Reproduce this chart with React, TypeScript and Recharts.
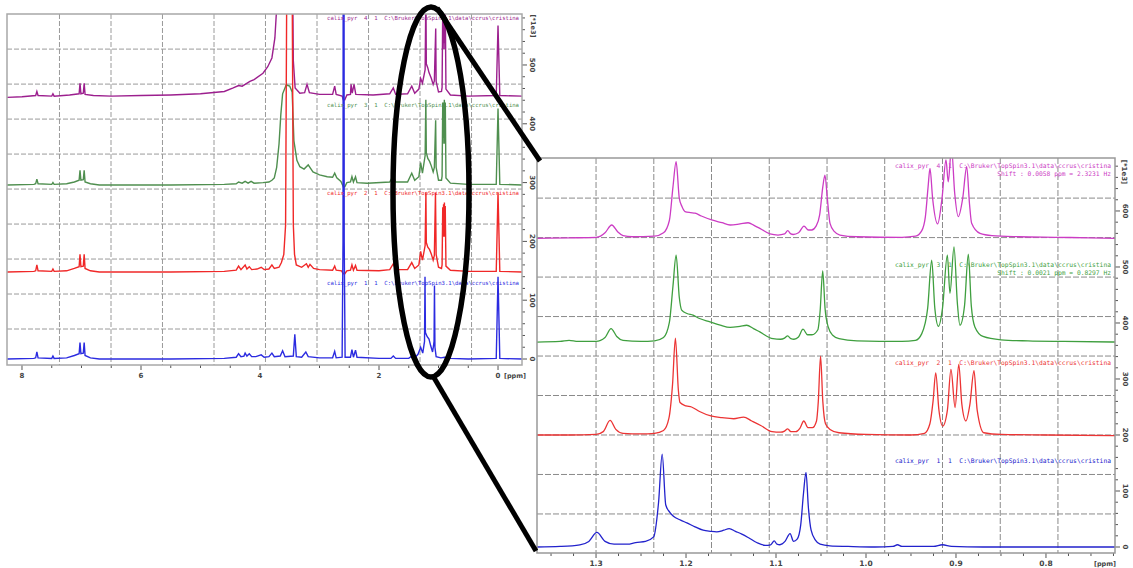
import React from "react";
import { CartesianGrid, Line, LineChart, XAxis, YAxis } from "recharts";

// full 1H spectra (left), [ppm, intensity above the trace's own baseline]
const fullBlue: [number, number][] = [
  [8.25, 0], [7.8, 1], [7.77, 2], [7.75, 12], [7.73, 2], [7.5, 1], [7.48, 5], [7.46, 1], [7.25, 2], [7.12, 6],
  [7.04, 9], [7.025, 28], [7.01, 9], [6.97, 10], [6.955, 28], [6.94, 6], [6.85, 2], [6.7, 0], [5.5, 0], [4.6, 1],
  [4.4, 3], [4.36, 9], [4.32, 4], [4.27, 5], [4.25, 10], [4.22, 5], [4.18, 9], [4.14, 4], [4.07, 4], [3.98, 7],
  [3.93, 3], [3.85, 4], [3.8, 10], [3.76, 4], [3.66, 5], [3.62, 14], [3.58, 4], [3.44, 5], [3.415, 42], [3.39, 4],
  [3.3, 3], [3.23, 12], [3.19, 4], [3.0, 2], [2.78, 2], [2.745, 13], [2.72, 2], [2.62, 3], [2.605, 200], [2.595, 2000],
  [2.585, 200], [2.57, 3], [2.48, 3], [2.455, 16], [2.43, 3], [2.395, 15], [2.37, 3], [2.0, 1], [1.8, 1], [1.76, 5],
  [1.72, 1], [1.5, 1], [1.45, 5], [1.4, 2], [1.345, 8], [1.3, 20], [1.265, 10], [1.235, 30], [1.227, 140], [1.22, 45],
  [1.19, 38], [1.16, 34], [1.13, 22], [1.1, 12], [1.085, 22], [1.075, 30], [1.068, 125], [1.06, 20], [1.04, 4], [0.96, 2],
  [0.9, 3], [0.8, 1], [0.5, 0], [0.03, 1], [0.0, 140], [-0.03, 1], [-0.41, 0],
];
const fullRed: [number, number][] = [
  [8.25, 0], [7.8, 1], [7.77, 2], [7.75, 12], [7.73, 2], [7.5, 1], [7.48, 5], [7.46, 1], [7.25, 2], [7.12, 6],
  [7.04, 9], [7.025, 30], [7.01, 9], [6.97, 10], [6.955, 30], [6.94, 6], [6.85, 2], [6.7, 0], [5.5, 0], [4.6, 1],
  [4.4, 3], [4.36, 10], [4.32, 4], [4.25, 12], [4.22, 5], [4.18, 9], [4.14, 4], [4.05, 5], [3.98, 8], [3.93, 4],
  [3.85, 5], [3.8, 12], [3.76, 6], [3.68, 8], [3.64, 16], [3.6, 30], [3.57, 80], [3.55, 500], [3.505, 2000], [3.46, 500],
  [3.44, 80], [3.42, 30], [3.39, 12], [3.3, 8], [3.22, 14], [3.19, 8], [3.16, 13], [3.1, 6], [3.0, 4], [2.78, 3],
  [2.745, 10], [2.72, 3], [2.63, 2], [2.6, -3], [2.575, -3], [2.54, 2], [2.48, 3], [2.455, 12], [2.43, 3], [2.395, 11],
  [2.37, 3], [2.0, 2], [1.82, 4], [1.76, 14], [1.72, 4], [1.52, 4], [1.45, 16], [1.4, 6], [1.33, 12], [1.3, 35],
  [1.27, 20], [1.225, 45], [1.212, 135], [1.205, 50], [1.18, 42], [1.15, 38], [1.12, 30], [1.09, 20], [1.07, 28], [1.051, 135],
  [1.04, 30], [1.0, 8], [0.95, 6], [0.94, 12], [0.929, 110], [0.922, 60], [0.915, 115], [0.908, 60], [0.901, 118], [0.894, 60],
  [0.887, 112], [0.875, 10], [0.8, 3], [0.5, 1], [0.03, 1], [0.0, 135], [-0.03, 1], [-0.41, 0],
];
const fullGreen: [number, number][] = [
  [8.25, 0], [7.8, 1], [7.77, 2], [7.75, 10], [7.73, 2], [7.5, 1], [7.48, 4], [7.46, 1], [7.25, 2], [7.12, 5],
  [7.04, 8], [7.025, 25], [7.01, 8], [6.97, 9], [6.955, 25], [6.94, 5], [6.85, 2], [6.7, 0], [5.5, 0], [4.6, 1],
  [4.4, 2], [4.36, 5], [4.3, 3], [4.25, 6], [4.2, 3], [4.15, 6], [4.1, 3], [3.95, 4], [3.85, 5], [3.8, 8],
  [3.76, 12], [3.72, 30], [3.68, 70], [3.65, 120], [3.62, 155], [3.56, 170], [3.5, 168], [3.46, 158], [3.43, 75], [3.38, 42],
  [3.33, 31], [3.26, 27], [3.19, 34], [3.11, 22], [3.0, 17], [2.87, 14], [2.78, 13], [2.745, 20], [2.71, 12], [2.64, 6],
  [2.6, -3], [2.575, -3], [2.54, 4], [2.48, 5], [2.455, 14], [2.43, 5], [2.395, 14], [2.37, 4], [2.2, 3], [1.82, 5],
  [1.76, 16], [1.72, 5], [1.52, 5], [1.45, 20], [1.4, 8], [1.33, 14], [1.3, 38], [1.27, 20], [1.225, 50], [1.213, 145],
  [1.205, 55], [1.18, 45], [1.15, 40], [1.12, 32], [1.09, 22], [1.07, 30], [1.048, 110], [1.04, 30], [1.0, 8], [0.95, 8],
  [0.94, 15], [0.929, 140], [0.922, 70], [0.913, 140], [0.908, 80], [0.902, 145], [0.895, 70], [0.886, 140], [0.875, 12], [0.8, 3],
  [0.5, 1], [0.03, 1], [0.0, 130], [-0.03, 1], [-0.41, 0],
];
const fullMagenta: [number, number][] = [
  [8.25, -2], [8.0, -1], [7.77, 1], [7.75, 8], [7.73, 1], [7.5, 0], [7.48, 4], [7.46, 0], [7.2, 2], [7.04, 4],
  [7.025, 22], [7.01, 4], [6.97, 5], [6.955, 22], [6.94, 3], [6.8, 1], [6.5, 0], [6.0, 1], [5.5, 2], [5.0, 4],
  [4.6, 8], [4.45, 14], [4.36, 18], [4.3, 17], [4.25, 20], [4.17, 25], [4.1, 28], [3.95, 39], [3.87, 50], [3.8, 65],
  [3.75, 99], [3.72, 150], [3.68, 300], [3.6, 2000], [3.5, 2000], [3.46, 300], [3.44, 60], [3.41, 14], [3.33, 5], [3.25, 6],
  [3.21, 20], [3.17, 6], [3.0, 3], [2.78, 3], [2.745, 17], [2.72, 3], [2.62, 0], [2.6, -6], [2.575, -6], [2.54, 2],
  [2.48, 3], [2.47, 20], [2.45, 5], [2.42, 20], [2.39, 3], [2.1, 2], [1.82, 4], [1.76, 14], [1.72, 3], [1.52, 4],
  [1.45, 17], [1.4, 5], [1.33, 12], [1.3, 30], [1.27, 22], [1.225, 45], [1.212, 180], [1.205, 55], [1.18, 48], [1.16, 40],
  [1.12, 30], [1.09, 20], [1.07, 26], [1.047, 115], [1.04, 25], [1.0, 7], [0.95, 8], [0.94, 15], [0.929, 150], [0.922, 80],
  [0.913, 160], [0.905, 90], [0.9, 165], [0.893, 80], [0.886, 150], [0.875, 12], [0.8, 2], [0.5, 0], [0.03, 1], [0.0, 120],
  [-0.03, 1], [-0.41, 0],
];
const fullOffsets = [0, 148, 296, 447];

// expanded 1.37-0.72 ppm region (right)
const zoomBlue: [number, number][] = [
  [1.366, 0], [1.34, 1], [1.318, 4], [1.308, 10], [1.299, 26], [1.29, 10], [1.28, 5], [1.265, 5], [1.256, 8], [1.245, 10],
  [1.236, 18], [1.2305, 80], [1.2265, 166], [1.2225, 75], [1.218, 62], [1.214, 55], [1.206, 48], [1.199, 43], [1.19, 36], [1.181, 30],
  [1.173, 28], [1.166, 27], [1.158, 30], [1.152, 33], [1.145, 28], [1.138, 23], [1.13, 16], [1.1215, 8], [1.112, 3], [1.106, 4],
  [1.102, 11], [1.099, 5], [1.0956, 4], [1.09, 10], [1.0844, 24], [1.0805, 10], [1.0765, 14], [1.0725, 40], [1.0695, 95], [1.0667, 133],
  [1.064, 70], [1.061, 30], [1.056, 12], [1.051, 5], [1.04, 2], [1.02, 1], [0.99, 0], [0.97, 1], [0.965, 4], [0.96, 1],
  [0.925, 1], [0.915, 4], [0.905, 1], [0.87, 0], [0.8, 0], [0.722, 0],
];
const zoomRed: [number, number][] = [
  [1.366, 0], [1.33, 0], [1.3, 1], [1.292, 6], [1.2844, 26], [1.278, 10], [1.27, 3], [1.25, 2], [1.235, 3], [1.225, 8],
  [1.219, 30], [1.215, 90], [1.2118, 173], [1.2085, 80], [1.2067, 58], [1.2, 52], [1.1939, 50], [1.185, 42], [1.1724, 34], [1.16, 31],
  [1.147, 29], [1.136, 32], [1.127, 25], [1.117, 17], [1.1044, 6], [1.095, 5], [1.0905, 7], [1.087, 11], [1.0835, 6], [1.078, 6],
  [1.0735, 12], [1.0691, 25], [1.0645, 13], [1.0595, 13], [1.055, 25], [1.053, 60], [1.0505, 141], [1.048, 60], [1.045, 20], [1.04, 10],
  [1.03, 4], [1.0, 1], [0.95, 0], [0.935, 3], [0.929, 20], [0.9255, 60], [0.9225, 111], [0.919, 45], [0.9148, 16], [0.9095, 45],
  [0.9056, 117], [0.901, 49], [0.8969, 126], [0.8935, 55], [0.889, 25], [0.8845, 55], [0.88, 115], [0.8765, 45], [0.869, 4], [0.85, 1],
  [0.8, 0], [0.722, -1],
];
const zoomGreen: [number, number][] = [
  [1.366, 0], [1.34, 1], [1.33, 3], [1.32, 1], [1.3, 1], [1.29, 8], [1.2833, 24], [1.277, 10], [1.27, 3], [1.25, 1],
  [1.235, 2], [1.225, 8], [1.2185, 35], [1.2145, 100], [1.211, 155], [1.2075, 80], [1.2048, 57], [1.199, 51], [1.1922, 48], [1.185, 42],
  [1.1733, 36], [1.162, 30], [1.151, 26], [1.14, 28], [1.1326, 30], [1.125, 24], [1.118, 18], [1.1033, 6], [1.095, 5], [1.0905, 7],
  [1.087, 11], [1.0835, 6], [1.08, 5], [1.075, 9], [1.07, 23], [1.065, 13], [1.06, 13], [1.0535, 22], [1.051, 55], [1.0481, 127],
  [1.0455, 60], [1.042, 27], [1.037, 12], [1.03, 6], [1.01, 2], [0.96, 1], [0.945, 3], [0.938, 15], [0.9315, 60], [0.927, 146],
  [0.9235, 60], [0.9195, 28], [0.915, 60], [0.9096, 155], [0.9067, 87], [0.9022, 170], [0.8985, 70], [0.8956, 30], [0.8905, 65], [0.8863, 157],
  [0.883, 65], [0.879, 27], [0.87, 10], [0.85, 4], [0.82, 2], [0.78, 1], [0.722, 0],
];
const zoomMagenta: [number, number][] = [
  [1.366, -2], [1.33, -1], [1.3, 0], [1.295, 2], [1.29, 8], [1.2826, 22], [1.276, 10], [1.27, 3], [1.26, 1], [1.235, 2],
  [1.225, 8], [1.2185, 30], [1.2145, 90], [1.211, 135], [1.2075, 70], [1.2045, 55], [1.2011, 46], [1.195, 44], [1.19, 43], [1.183, 38],
  [1.1715, 31], [1.16, 26], [1.151, 22], [1.14, 24], [1.131, 26], [1.124, 21], [1.118, 16], [1.1067, 6], [1.0978, 4], [1.0905, 6],
  [1.087, 12], [1.0835, 6], [1.081, 5], [1.075, 8], [1.0689, 20], [1.064, 13], [1.0604, 13], [1.0555, 20], [1.0515, 40], [1.048, 90],
  [1.0456, 111], [1.043, 70], [1.04, 25], [1.035, 10], [1.029, 4], [1.01, 1], [0.96, 0], [0.945, 2], [0.938, 12], [0.934, 37],
  [0.931, 90], [0.9289, 123], [0.926, 70], [0.9204, 24], [0.9155, 70], [0.9111, 138], [0.9086, 99], [0.905, 160], [0.9015, 80], [0.8974, 37],
  [0.8925, 70], [0.8881, 126], [0.885, 60], [0.8826, 25], [0.8733, 7], [0.86, 3], [0.83, 1], [0.79, 0], [0.75, -1], [0.722, -2],
];
const zoomOffsets = [0, 200, 366, 553];

const fullColors = ["#2b2be0", "#f02828", "#4f8f4f", "#9c1f8e"];
const zoomColors = ["#2222cc", "#ec3434", "#3f9f3f", "#cc3cc4"];
const expNames = ["calix_pyr  1  1", "calix_pyr  2  1", "calix_pyr  3  1", "calix_pyr  4  1"];
const dataPath = "C:\\Bruker\\TopSpin3.1\\data\\ccrus\\cristina";
const shiftNotes = ["", "", "Shift : 0.0021 ppm = 0.8297 Hz", "Shift : 0.0058 ppm = 2.3231 Hz"];

const fullXTicks = [8, 7.5, 7, 6.5, 6, 5.5, 5, 4.5, 4, 3.5, 3, 2.5, 2, 1.5, 1, 0.5, 0];
const zoomXTicks = [1.35, 1.325, 1.3, 1.275, 1.25, 1.225, 1.2, 1.175, 1.15, 1.125, 1.1, 1.075, 1.05, 1.025, 1.0,
  0.975, 0.95, 0.925, 0.9, 0.875, 0.85, 0.825, 0.8, 0.775, 0.75, 0.725];
const fullYTicks = [0, 20, 40, 60, 80, 100, 120, 140, 160, 180, 200, 220, 240, 260, 280, 300, 320, 340, 360, 380,
  400, 420, 440, 460, 480, 500, 520, 540, 560, 580];
const zoomYTicks = [0, 20, 40, 60, 80, 100, 120, 140, 160, 180, 200, 220, 240, 260, 280, 300, 320, 340, 360, 380,
  400, 420, 440, 460, 480, 500, 520, 540, 560, 580, 600, 620, 640, 660, 680];
// TopSpin draws its dashed grid independently of the tick labels
const fullGridX = [7.37, 6.504, 5.639, 4.773, 3.908, 3.042, 2.176, 1.311, 0.445];
const fullGridY = [51, 110.5, 170, 229.5, 289, 348.5, 408, 467.5, 527];
const zoomGridX = [1.3, 1.2358, 1.1717, 1.1075, 1.0433, 0.9792, 0.915, 0.8508, 0.7867];
const zoomGridY = [59, 129.5, 200, 270.5, 341, 411.5, 482, 552.5, 623];

const toRows = (pts: [number, number][], off: number) => pts.map(([ppm, v]) => ({ ppm, v: v + off }));
const fullSeries = [fullBlue, fullRed, fullGreen, fullMagenta].map((p, i) => toRows(p, fullOffsets[i]));
const zoomSeries = [zoomBlue, zoomRed, zoomGreen, zoomMagenta].map((p, i) => toRows(p, zoomOffsets[i]));
// top trace first so the lower experiments are painted over it, as in TopSpin
const drawOrder = [3, 2, 1, 0];

const labelFont = "DejaVu Sans, sans-serif";
const monoFont = "DejaVu Sans Mono, monospace";

function PpmTick(props: any) {
  const { x, y, payload, step, digits, size } = props;
  const v = payload.value;
  const major = Math.abs(v / step - Math.round(v / step)) < 1e-6;
  return (
    <g>
      <line x1={x} x2={x} y1={y} y2={y + (major ? 5 : 3)} stroke="#555" strokeWidth={1} />
      {major && (
        <text x={x} y={y + 13} textAnchor="middle" fontSize={size} fontWeight="bold" fontFamily={labelFont} fill="#444">
          {v.toFixed(digits)}
        </text>
      )}
    </g>
  );
}

function IntensityTick(props: any) {
  const { x, y, payload, size, maxLabel } = props;
  const v = payload.value;
  const major = v % 100 === 0 && v <= maxLabel;
  return (
    <g>
      <line x1={x} x2={x + (major ? 5 : 3)} y1={y} y2={y} stroke="#555" strokeWidth={1} />
      {major && (
        <text x={x + 10} y={y} transform={`rotate(90 ${x + 10} ${y})`} textAnchor="middle" dominantBaseline="central"
          fontSize={size} fontWeight="bold" fontFamily={labelFont} fill="#444">
          {v}
        </text>
      )}
    </g>
  );
}

export default function App() {
  return (
    <div style={{ position: "absolute", left: 0, top: 0, width: 1133, height: 568, background: "#fff" }}>
      <div style={{ position: "absolute", left: 0, top: 0 }}>
        <LineChart width={545} height={385} margin={{ top: 14, left: 7, right: 0, bottom: 0 }}>
          <CartesianGrid stroke="#9a9a9a" strokeDasharray="5 2" horizontalValues={fullGridY} verticalValues={fullGridX} />
          <XAxis dataKey="ppm" type="number" domain={[-0.403, 8.252]} reversed allowDataOverflow ticks={fullXTicks}
            interval={0} height={20} axisLine={false} tickLine={false} tickSize={0} tickMargin={0}
            tick={(p: any) => <PpmTick {...p} step={2} digits={0} size={7} />} />
          <YAxis orientation="right" type="number" domain={[-10.2, 586.7]} allowDataOverflow ticks={fullYTicks}
            interval={0} width={23} axisLine={false} tickLine={false} tickSize={0} tickMargin={0}
            tick={(p: any) => <IntensityTick {...p} size={7} maxLabel={500} />} />
          {drawOrder.map((i) => (
            <Line key={i} data={fullSeries[i]} dataKey="v" type="linear" stroke={fullColors[i]} strokeWidth={1.4}
              dot={false} activeDot={false} isAnimationActive={false} />
          ))}
        </LineChart>
      </div>
      <div style={{ position: "absolute", left: 530, top: 150 }}>
        <LineChart width={603} height={418} margin={{ top: 8, left: 7, right: 0, bottom: 0 }}>
          <CartesianGrid stroke="#8a8a8a" strokeDasharray="6 2" horizontalValues={zoomGridY} verticalValues={zoomGridX} />
          <XAxis dataKey="ppm" type="number" domain={[0.7233, 1.3656]} reversed allowDataOverflow ticks={zoomXTicks}
            interval={0} height={15} axisLine={false} tickLine={false} tickSize={0} tickMargin={0}
            tick={(p: any) => <PpmTick {...p} step={0.1} digits={1} size={7.5} />} />
          <YAxis orientation="right" type="number" domain={[-10.7, 694.6]} allowDataOverflow ticks={zoomYTicks}
            interval={0} width={18} axisLine={false} tickLine={false} tickSize={0} tickMargin={0}
            tick={(p: any) => <IntensityTick {...p} size={7} maxLabel={600} />} />
          {drawOrder.map((i) => (
            <Line key={i} data={zoomSeries[i]} dataKey="v" type="monotone" stroke={zoomColors[i]} strokeWidth={1.3}
              dot={false} activeDot={false} isAnimationActive={false} />
          ))}
        </LineChart>
      </div>
      <svg width={1133} height={568} style={{ position: "absolute", left: 0, top: 0, pointerEvents: "none" }}>
        <rect x={7} y={14} width={515} height={351} fill="none" stroke="#a8a8a8" strokeWidth={1.5} />
        <rect x={537} y={158} width={578} height={395} fill="none" stroke="#999" strokeWidth={1.5} />
        {[20, 107, 195, 285].map((ty, k) => {
          const i = 3 - k;
          return (
            <text key={k} x={519} y={ty} textAnchor="end" fontSize={5.6} fontFamily={monoFont} fill={fullColors[i]}
              style={{ whiteSpace: "pre" }}>
              {`${expNames[i]}  ${dataPath}`}
            </text>
          );
        })}
        {[168, 267, 365, 463].map((ty, k) => {
          const i = 3 - k;
          return (
            <g key={k}>
              <text x={1111} y={ty} textAnchor="end" fontSize={6.3} fontFamily={monoFont} fill={zoomColors[i]}
                style={{ whiteSpace: "pre" }}>
                {`${expNames[i]}  ${dataPath}`}
              </text>
              {shiftNotes[i] && (
                <text x={1111} y={ty + 8} textAnchor="end" fontSize={6.3} fontFamily={monoFont} fill={zoomColors[i]}>
                  {shiftNotes[i]}
                </text>
              )}
            </g>
          );
        })}
        <text x={504} y={378} textAnchor="start" fontSize={6.5} fontWeight="bold" fontFamily={labelFont} fill="#444">[ppm]</text>
        <text x={1105} y={566} textAnchor="middle" fontSize={6.5} fontWeight="bold" fontFamily={labelFont} fill="#444">[ppm]</text>
        <text x={533} y={26} transform="rotate(90 533 26)" textAnchor="middle" dominantBaseline="central" fontSize={6.5}
          fontWeight="bold" fontFamily={labelFont} fill="#444">[*1e3]</text>
        <text x={1124} y={172} transform="rotate(90 1124 172)" textAnchor="middle" dominantBaseline="central" fontSize={7}
          fontWeight="bold" fontFamily={labelFont} fill="#444">[*1e3]</text>
        <ellipse cx={431} cy={192} rx={38} ry={185} fill="none" stroke="#000" strokeWidth={5.5} />
        <line x1={437} y1={8} x2={540} y2={161} stroke="#000" strokeWidth={5} />
        <line x1={433} y1={376} x2={536} y2={551} stroke="#000" strokeWidth={5} />
      </svg>
    </div>
  );
}
